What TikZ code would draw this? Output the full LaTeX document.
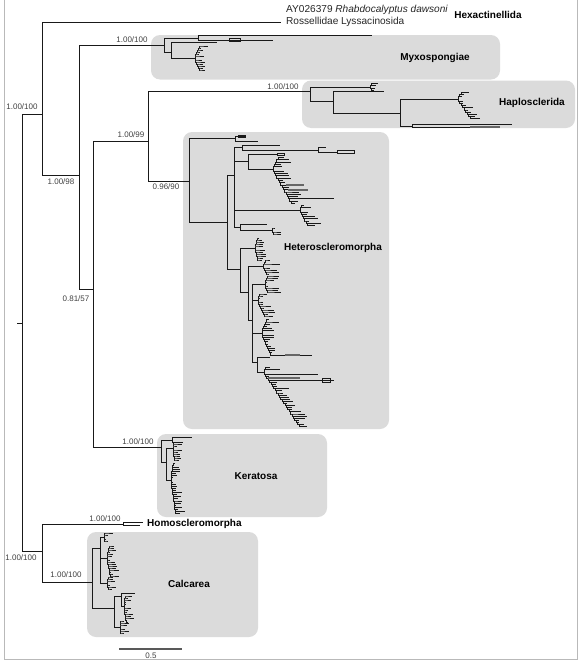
\documentclass[tikz,border=0pt]{standalone}
\usepackage{fontspec}
\setmainfont{Liberation Sans}
\usepackage{tikz}
\usetikzlibrary{positioning, calc}

% dense little clusters: a staircase going up and one going down from (x,y)
\newcommand\bush[7]{% x, y, steps up, steps down, dy, dx, longest twig
  \foreach \k in {1,...,#3}{
    \pgfmathsetmacro\twig{1+rnd*#7}
    \draw[branch] ({#1+(\k-1)*#6},{#2-(\k-1)*#5}) |- ({#1+\k*#6},{#2-\k*#5}) -- ++(\twig,0);
  }
  \foreach \k in {1,...,#4}{
    \pgfmathsetmacro\twig{1+rnd*#7}
    \draw[branch] ({#1+(\k-1)*#6},{#2+(\k-1)*#5}) |- ({#1+\k*#6},{#2+\k*#5}) -- ++(\twig,0);
  }
}

\begin{document}
\begin{tikzpicture}[
        x=1pt, y=-1pt,
        % styles
        branch/.style={draw=black!90, line width=0.9pt},
        cladebox/.style={fill=gray!28, rounded corners=9pt},
        support/.style={font=\fontsize{8}{9}\selectfont, text=black!75, inner sep=0pt},
        cladename/.style={font=\fontsize{10}{12}\selectfont\bfseries, inner sep=0pt},
        taxon/.style={font=\fontsize{10.1}{11}\selectfont, text=black!85, anchor=west, inner sep=0pt},
        scalebar/.style={draw=black!65, line width=1.2pt},
        thicktwig/.style={draw=black!60, line width=1.5pt}
    ]
    \useasboundingbox (0,0) rectangle (580,664);
    \pgfmathsetseed{7}

    % --- 1. FRAME AND CLADE BOXES ---
    \draw[gray!55, line width=0.6pt] (4.5,0) -- (4.5,659) -- (577.5,659) -- (577.5,0);

    \path[cladebox] (151,35) rectangle (500,79.5);
    \path[cladebox] (302,80.5) rectangle (575,128);
    \path[cladebox] (183,132) rectangle (389,429);
    \path[cladebox] (157,434) rectangle (327,517);
    \path[cladebox] (87,532) rectangle (258,637);

    \node[cladename] (myxoname) at (435,58) {Myxospongiae};
    \node[cladename] (haploname) at (532,103) {Haplosclerida};
    \node[cladename] (heteroname) at (333,248) {Heteroscleromorpha};
    \node[cladename] (keraname) at (256,476) {Keratosa};
    \node[cladename] (calcname) at (189,584) {Calcarea};
    \node[cladename, anchor=west] (homoname) at (147,524) {Homoscleromorpha};
    \node[cladename] (hexaname) at (488,15) {Hexactinellida};

    \node[taxon] (rhabdo) at (286,10) {AY026379 \textit{Rhabdocalyptus dawsoni}};
    \node[taxon] (rossel) at (286,22) {Rossellidae Lyssacinosida};

    % --- 2. BACKBONE ---
    \coordinate (root) at (22,323);
    \coordinate (nA) at (42,114);
    \coordinate (nB) at (79,175);
    \coordinate (nC) at (93,289);
    \coordinate (nD) at (148,141);
    \coordinate (nE) at (42,551);
    \coordinate (hexa) at (281,22);
    \coordinate (myxo) at (164,45);
    \coordinate (haplo) at (310,91);
    \coordinate (hetero) at (189,181);
    \coordinate (kera) at (161,447);
    \coordinate (homo) at (123,524);
    \coordinate (calc) at (92,582);

    \draw[branch] (root) -- ++(-5,0);
    \draw[branch] (root) |- (nA);
    \draw[branch] (root) |- (nE);
    \draw[branch] (nA) |- (hexa);
    \draw[branch] (nA) |- (nB);
    \draw[branch] (nB) |- (myxo);
    \draw[branch] (nB) |- (nC);
    \draw[branch] (nC) |- (nD);
    \draw[branch] (nC) |- (kera);
    \draw[branch] (nD) |- (haplo);
    \draw[branch] (nD) |- (hetero);
    \draw[branch] (nE) |- (homo);
    \draw[branch] (nE) |- (calc);

    % support values
    \node[support] (sA) at (22,107) {1.00/100};
    \node[support] (sMyxo) at (132,40) {1.00/100};
    \node[support] (sHaplo) at (283,87) {1.00/100};
    \node[support] (sD) at (131,135) {1.00/99};
    \node[support] (sB) at (61,182) {1.00/98};
    \node[support] (sHetero) at (166,187) {0.96/90};
    \node[support] (sC) at (76,299) {0.81/57};
    \node[support] (sKera) at (138,442) {1.00/100};
    \node[support] (sHomo) at (105,519) {1.00/100};
    \node[support] (sCalc) at (66,575) {1.00/100};
    \node[support] (sRoot) at (21,558) {1.00/100};

    % --- 3. MYXOSPONGIAE ---
    \draw[branch] (myxo) |- (198,38);
    \draw[branch] (myxo) |- (171,52);
    \draw[branch] (198,38) |- (372,35);
    \draw[branch] (198,38) |- (273,40);
    \draw[branch] (229,38.7) rectangle (240,41.3);
    \draw[branch] (171,52) |- (217,42);
    \draw[branch] (171,52) |- (195,58);
    \bush{195}{58}{6}{6}{2}{0.8}{8}

    % --- 4. HAPLOSCLERIDA ---
    \draw[branch] (haplo) |- (370,87);
    \draw[branch] (haplo) |- (333,101);
    \bush{370}{87}{2}{2}{1.8}{1}{9}
    \draw[branch] (333,101) |- (384,91);
    \draw[branch] (333,101) |- (400,113);
    \draw[branch] (400,113) |- (458,99);
    \draw[branch] (400,113) |- (412,126);
    \bush{458}{99}{3}{9}{2.2}{1.5}{10}
    \draw[branch] (412,126) |- (512,124.5);
    \draw[branch] (412,126) |- (500,127.5);
    \draw[thicktwig] (470,127) -- (500,127);

    % --- 5. HETEROSCLEROMORPHA ---
    \draw[branch] (hetero) |- (235,138.5);
    \draw[branch] (hetero) |- (227,222);
    \draw[branch] (235,138.5) |- (245,136.5);
    \draw[branch] (235,138.5) |- (258,141);
    \draw[branch] (238,135.3) rectangle (245,137.7);
    \draw[branch] (227,222) |- (234,175);
    \draw[branch] (227,222) |- (240,269);
    % upper part
    \draw[branch] (234,175) |- (242,147.5);
    \draw[branch] (234,175) |- (248,161);
    \draw[branch] (234,175) |- (300,210);
    \draw[branch] (234,175) |- (240,227);
    \draw[branch] (242,147.5) |- (280,145);
    \draw[branch] (242,147.5) |- (318,150);
    \draw[branch] (318,150) |- (326,147.5);
    \draw[branch] (318,150) |- (337,152);
    \draw[branch] (337,150.5) rectangle (354,153.5);
    \draw[branch] (248,161) |- (277,154.5);
    \draw[branch] (277,153.3) rectangle (284,155.7);
    \draw[branch] (248,161) |- (273,169);
    \bush{273}{169}{5}{15}{2.3}{1.3}{13}
    \draw[thicktwig] (286,185) -- (304,185);
    \draw[thicktwig] (288,190) -- (308,190);
    \draw[branch] (289.9,198.9) -- (334,198.9);
    \bush{300}{210}{2}{7}{2.2}{1.2}{13}
    \draw[branch] (240,227) |- (267,224.5);
    \draw[branch] (240,227) |- (272,230);
    \bush{272}{230}{1}{2}{2}{1}{8}
    % lower part
    \draw[branch] (240,269) |- (255,248);
    \draw[branch] (240,269) |- (248,292);
    \bush{255}{248}{5}{6}{2}{0.5}{9}
    \draw[branch] (248,292) |- (263,266);
    \draw[branch] (248,292) |- (252,320);
    \bush{263}{266}{3}{4}{2}{1}{16}
    \draw[branch] (252,320) |- (265,284);
    \draw[branch] (252,320) |- (258,300);
    \draw[branch] (252,320) |- (262,333);
    \draw[branch] (252,320) |- (257,362);
    \bush{265}{284}{4}{4}{2}{0.8}{12}
    \bush{258}{300}{3}{8}{2}{0.9}{14}
    \bush{262}{333}{6}{10}{2.2}{0.9}{14}
    \draw[branch] (271,355) -- (312,355);
    \draw[thicktwig] (285,355) -- (300,355);
    \draw[branch] (257,362) |- (270,357);
    \draw[branch] (257,362) |- (264,372);
    \bush{264}{372}{2}{26}{2.1}{1.4}{14}
    \draw[branch] (265.4,374.1) -- (318,374.1);
    \draw[branch] (269.6,380.4) -- (334,380.4);
    \draw[branch] (322,378.8) rectangle (330,382);
    \draw[thicktwig] (268,378.2) -- (300,378.2);

    % --- 6. KERATOSA ---
    \draw[branch] (kera) |- (172,440);
    \draw[branch] (kera) |- (166,462);
    \draw[branch] (172,440) |- (192,437);
    \draw[branch] (172,440) |- (180,442);
    \draw[branch] (166,462) |- (173,448);
    \draw[branch] (166,462) |- (171,480);
    \bush{173}{448}{3}{6}{2}{0.3}{9}
    \bush{171}{480}{8}{16}{2.1}{0.3}{9}

    % --- 7. HOMOSCLEROMORPHA AND CALCAREA ---
    \draw[branch] (homo) |- (143,522.5);
    \draw[branch] (homo) |- (140,525.5);

    \draw[branch] (calc) |- (100,548);
    \draw[branch] (calc) |- (114,608);
    \draw[branch] (100,548) |- (104,537);
    \draw[branch] (100,548) |- (107,558);
    \draw[branch] (100,548) |- (107,583);
    \bush{104}{537}{2}{2}{2}{0.8}{7}
    \bush{107}{558}{6}{9}{2}{0.4}{9}
    \bush{107}{583}{3}{3}{2}{0.5}{8}
    \draw[branch] (114,608) |- (121,596);
    \draw[branch] (114,608) |- (120,627);
    \draw[branch] (121,596) |- (135,593);
    \draw[branch] (121,596) |- (124,606);
    \bush{124}{606}{5}{8}{2}{0.3}{7}
    \bush{120}{627}{3}{3}{2}{0.4}{7}

    % --- 8. SCALE BAR ---
    \coordinate (sbL) at (119,649);
    \coordinate (sbR) at (182,649);
    \draw[scalebar] (sbL) -- (sbR);
    \node[support] (sblabel) at (151,655.5) {0.5};

\end{tikzpicture}
\end{document}
